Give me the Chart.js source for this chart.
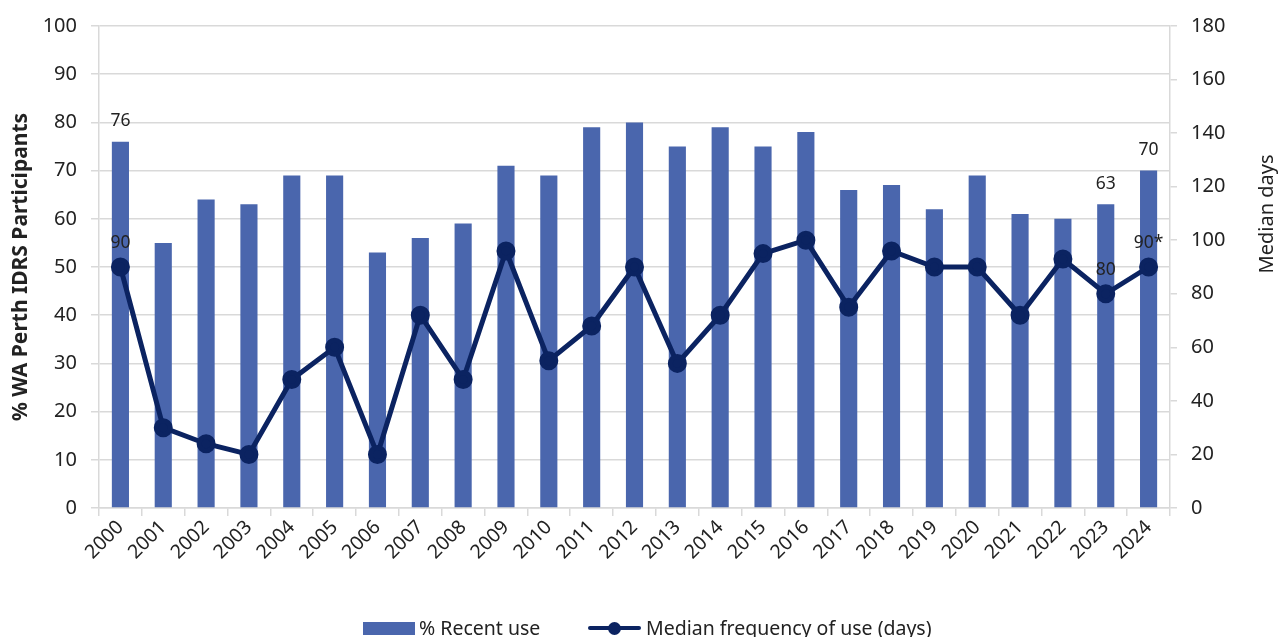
<!DOCTYPE html>
<html>
<head>
<meta charset="utf-8">
<script src="https://cdn.jsdelivr.net/npm/chart.js@4"></script>
<style>
    html, body { margin: 0; padding: 0; background: #fff; overflow: hidden; }
    #wrap { position: relative; width: 1279px; height: 637px; overflow: hidden; }
    #legenda { position: absolute; left: 0; top: 614px; width: 1279px; height: 40px;
               font-family: "Noto Sans", sans-serif; font-size: 19.5px; color: #222; }
    .item { position: absolute; top: 0; white-space: nowrap; }
    .caixa { position: absolute; top: 8px; width: 52px; height: 13px; background: #4a66ad; }
    .linha { position: absolute; top: 12px; width: 53px; height: 4px; background: #0b2361; border-radius: 2px; }
    .ponto { position: absolute; top: -4.5px; left: 20px; width: 13px; height: 13px; border-radius: 50%; background: #0b2361; }
</style>
</head>
<body>
<div id="wrap">
    <canvas id="grafico" width="1279" height="637"></canvas>
    <div id="legenda">
        <span class="caixa" style="left:363px"></span>
        <span class="item" style="left:419px">% Recent use</span>
        <span class="linha" style="left:588px"><span class="ponto"></span></span>
        <span class="item" style="left:646px">Median frequency of use (days)</span>
    </div>
</div>
<script>
var anos = ["2000", "2001", "2002", "2003", "2004", "2005", "2006", "2007", "2008", "2009",
            "2010", "2011", "2012", "2013", "2014", "2015", "2016", "2017", "2018", "2019",
            "2020", "2021", "2022", "2023", "2024"];

// % recent use (left axis)
var usoRecente = [76, 55, 64, 63, 69, 69, 53, 56, 59, 71,
                  69, 79, 80, 75, 79, 75, 78, 66, 67, 62,
                  69, 61, 60, 63, 70];

// median days of use (right axis)
var diasMediana = [90, 30, 24, 20, 48, 60, 20, 72, 48, 96,
                   55, 68, 90, 54, 72, 95, 100, 75, 96, 90,
                   90, 72, 93, 80, 90];

// which points get a value printed above them
var rotulosBarra = [0, 23, 24];
var rotulosLinha = [0, 23, 24];
var sufixoLinha = { 24: "*" };

var fonte = "'Noto Sans', sans-serif";
var corGrade = "#d9d9d9";
var corTexto = "#222";

var rotulosPlugin = {
    id: "rotulos",
    afterDatasetsDraw: function (chart) {
        var ctx = chart.ctx;
        ctx.save();
        ctx.font = "17.5px " + fonte;
        ctx.fillStyle = corTexto;
        ctx.textAlign = "center";
        ctx.textBaseline = "bottom";

        var barras = chart.getDatasetMeta(1).data;
        for (var i = 0; i < rotulosBarra.length; i++) {
            var k = rotulosBarra[i];
            ctx.fillText(String(usoRecente[k]), barras[k].x, barras[k].y - 12);
        }

        var pontos = chart.getDatasetMeta(0).data;
        for (var j = 0; j < rotulosLinha.length; j++) {
            var n = rotulosLinha[j];
            ctx.fillText(String(diasMediana[n]) + (sufixoLinha[n] || ""), pontos[n].x, pontos[n].y - 15);
        }

        // right axis title, reading bottom to top
        var area = chart.chartArea;
        ctx.font = "20px " + fonte;
        ctx.textBaseline = "middle";
        ctx.translate(chart.width - 12, area.top + (area.bottom - area.top) * 0.39);
        ctx.rotate(-Math.PI / 2);
        ctx.fillText("Median days", 0, 0);
        ctx.restore();
    }
};

var config = {
    data: {
        labels: anos,
        datasets: [{
            type: "line",
            label: "Median frequency of use (days)",
            data: diasMediana,
            yAxisID: "yDias",
            borderColor: "#0b2361",
            backgroundColor: "#0b2361",
            borderWidth: 5,
            pointRadius: 7,
            pointHoverRadius: 7,
            tension: 0,
            order: 0
        }, {
            type: "bar",
            label: "% Recent use",
            data: usoRecente,
            yAxisID: "yPerc",
            backgroundColor: "#4a66ad",
            borderWidth: 0,
            barPercentage: 0.4,
            categoryPercentage: 1,
            order: 1
        }]
    },
    options: {
        responsive: false,
        animation: false,
        layout: { padding: { top: 24, bottom: 0, left: 0, right: 0 } },
        plugins: {
            legend: { display: false },
            tooltip: { enabled: false }
        },
        scales: {
            x: {
                offset: true,
                grid: { offset: true, drawOnChartArea: false, color: corGrade, tickLength: 8, lineWidth: 1.5 },
                border: { color: corGrade, width: 1.5 },
                ticks: { color: corTexto, font: { family: fonte, size: 19.5 }, minRotation: 45, maxRotation: 45, padding: 0 },
                afterFit: function (s) { s.height = 129; }
            },
            yPerc: {
                position: "left",
                min: 0,
                max: 100,
                ticks: { stepSize: 10, color: corTexto, font: { family: fonte, size: 20 }, padding: 14 },
                grid: { color: corGrade, lineWidth: 1.5, tickLength: 8 },
                border: { color: corGrade, width: 1.5 },
                title: {
                    display: true,
                    text: "% WA Perth IDRS Participants",
                    color: corTexto,
                    font: { family: fonte, size: 21, weight: "bold" },
                    padding: { top: 8, bottom: 0 }
                },
                afterFit: function (s) { s.width = 99; }
            },
            yDias: {
                position: "right",
                min: 0,
                max: 180,
                ticks: { stepSize: 20, color: corTexto, font: { family: fonte, size: 20 }, padding: 14 },
                grid: { drawOnChartArea: false, color: corGrade, lineWidth: 1.5, tickLength: 7 },
                border: { color: corGrade, width: 1.5 },
                afterFit: function (s) { s.width = 109; }
            }
        }
    },
    plugins: [rotulosPlugin]
};

new Chart(document.getElementById("grafico"), config);
</script>
</body>
</html>
